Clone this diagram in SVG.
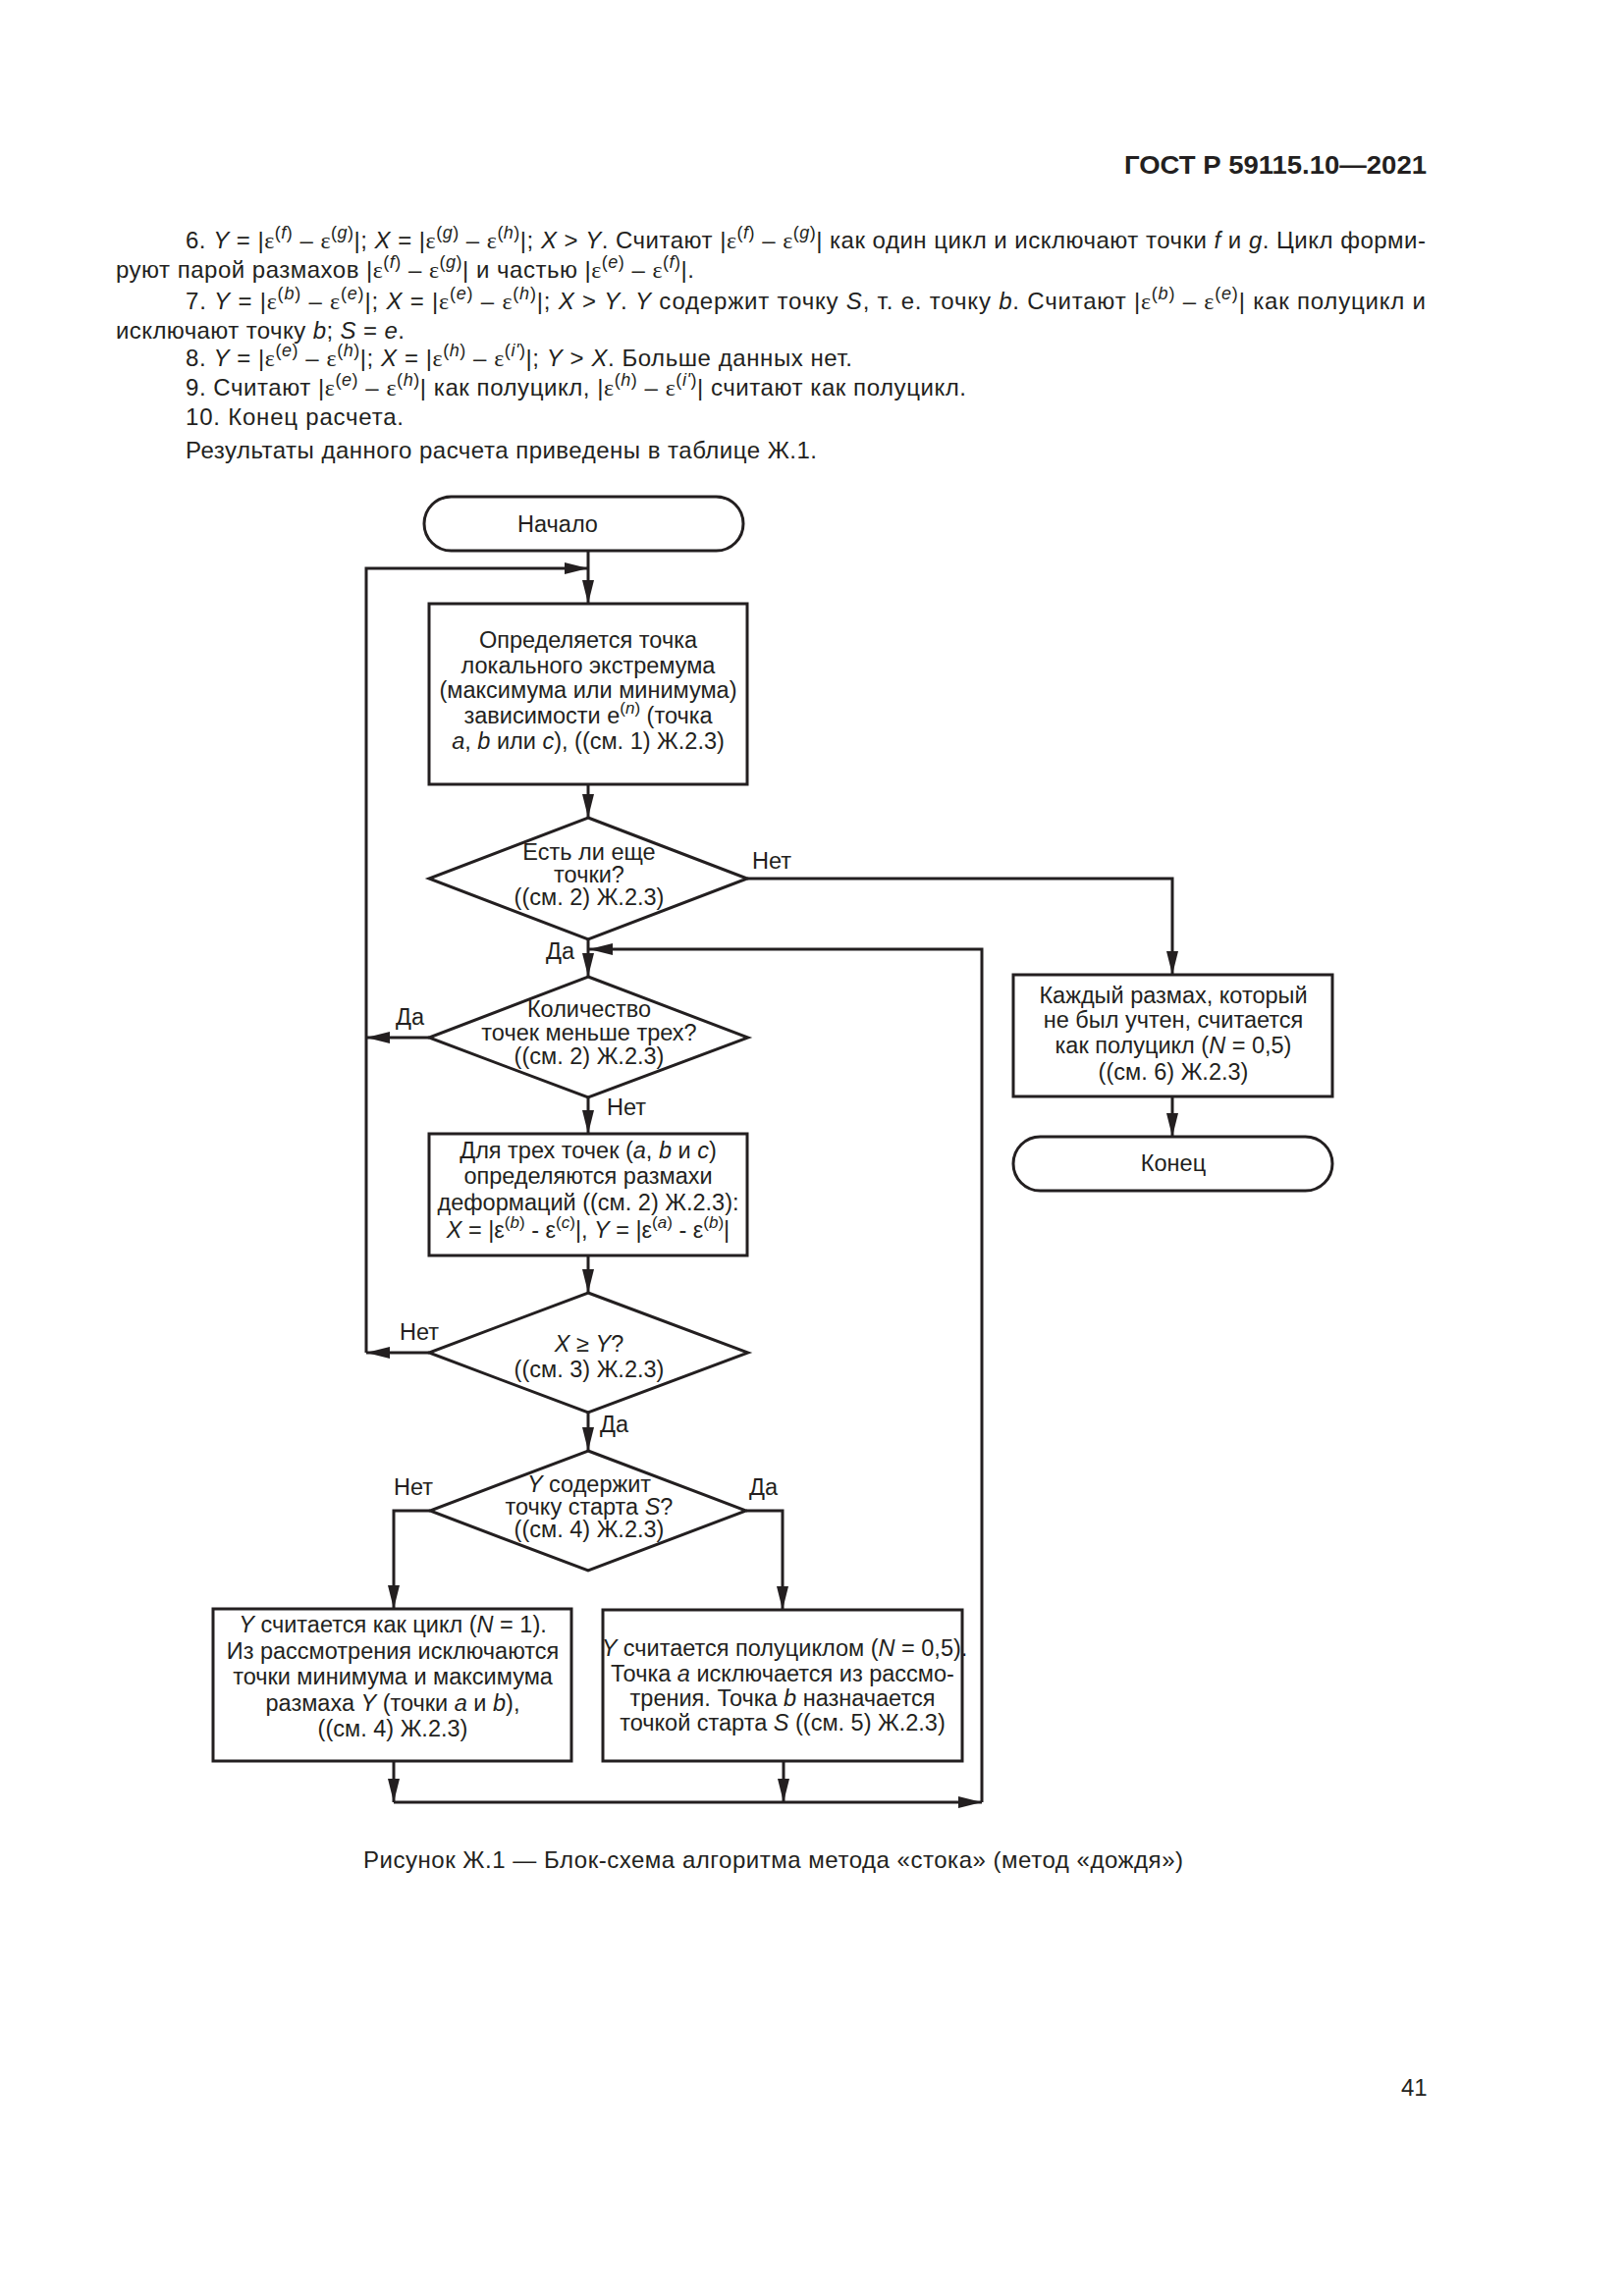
<svg xmlns="http://www.w3.org/2000/svg" width="1654" height="2339" viewBox="0 0 1654 2339">
<style>
text{font-family:"Liberation Sans",Arial,sans-serif;fill:#231f20}
.b{font-size:24px}
.t{font-size:23.5px}
.c{text-anchor:middle}
.i{font-style:italic}
.e{font-family:"Liberation Serif","Times New Roman",serif}
.sp{font-size:18px}
.ss{font-size:17px}
.h{font-size:26px;font-weight:bold}
.shape{fill:#fff;stroke:#231f20;stroke-width:3}
.ln{fill:none;stroke:#231f20;stroke-width:3}
</style>
<defs>
<marker id="ah" viewBox="0 0 24 12" refX="24" refY="6" markerWidth="24" markerHeight="12" markerUnits="userSpaceOnUse" orient="auto"><path d="M0,0 L24,6 L0,12 z" fill="#231f20"/></marker>
</defs>
<rect width="1654" height="2339" fill="#fff"/>

<g id="page-text">
<text class="h" x="1145" y="177" textLength="308" lengthAdjust="spacingAndGlyphs">ГОСТ Р 59115.10—2021</text>
<text class="b" x="189" y="253" textLength="1263" lengthAdjust="spacing">6. <tspan class="i">Y</tspan> = |<tspan class="e">ε</tspan><tspan class="sp" dy="-10">(<tspan class="i">f</tspan>)</tspan><tspan dy="10"> – </tspan><tspan class="e">ε</tspan><tspan class="sp" dy="-10">(<tspan class="i">g</tspan>)</tspan><tspan dy="10">|; </tspan><tspan class="i">X</tspan> = |<tspan class="e">ε</tspan><tspan class="sp" dy="-10">(<tspan class="i">g</tspan>)</tspan><tspan dy="10"> – </tspan><tspan class="e">ε</tspan><tspan class="sp" dy="-10">(<tspan class="i">h</tspan>)</tspan><tspan dy="10">|; </tspan><tspan class="i">X</tspan> &gt; <tspan class="i">Y</tspan>. Считают |<tspan class="e">ε</tspan><tspan class="sp" dy="-10">(<tspan class="i">f</tspan>)</tspan><tspan dy="10"> – </tspan><tspan class="e">ε</tspan><tspan class="sp" dy="-10">(<tspan class="i">g</tspan>)</tspan><tspan dy="10">| как один цикл и исключают точки </tspan><tspan class="i">f</tspan> и <tspan class="i">g</tspan>. Цикл форми-</text>
<text class="b" x="118" y="283" textLength="589" lengthAdjust="spacing">руют парой размахов |<tspan class="e">ε</tspan><tspan class="sp" dy="-10">(<tspan class="i">f</tspan>)</tspan><tspan dy="10"> – </tspan><tspan class="e">ε</tspan><tspan class="sp" dy="-10">(<tspan class="i">g</tspan>)</tspan><tspan dy="10">| и частью |</tspan><tspan class="e">ε</tspan><tspan class="sp" dy="-10">(<tspan class="i">e</tspan>)</tspan><tspan dy="10"> – </tspan><tspan class="e">ε</tspan><tspan class="sp" dy="-10">(<tspan class="i">f</tspan>)</tspan><tspan dy="10">|.</tspan></text>
<text class="b" x="189" y="315" textLength="1263" lengthAdjust="spacing">7. <tspan class="i">Y</tspan> = |<tspan class="e">ε</tspan><tspan class="sp" dy="-10">(<tspan class="i">b</tspan>)</tspan><tspan dy="10"> – </tspan><tspan class="e">ε</tspan><tspan class="sp" dy="-10">(<tspan class="i">e</tspan>)</tspan><tspan dy="10">|; </tspan><tspan class="i">X</tspan> = |<tspan class="e">ε</tspan><tspan class="sp" dy="-10">(<tspan class="i">e</tspan>)</tspan><tspan dy="10"> – </tspan><tspan class="e">ε</tspan><tspan class="sp" dy="-10">(<tspan class="i">h</tspan>)</tspan><tspan dy="10">|; </tspan><tspan class="i">X</tspan> &gt; <tspan class="i">Y</tspan>. <tspan class="i">Y</tspan> содержит точку <tspan class="i">S</tspan>, т. е. точку <tspan class="i">b</tspan>. Считают |<tspan class="e">ε</tspan><tspan class="sp" dy="-10">(<tspan class="i">b</tspan>)</tspan><tspan dy="10"> – </tspan><tspan class="e">ε</tspan><tspan class="sp" dy="-10">(<tspan class="i">e</tspan>)</tspan><tspan dy="10">| как полуцикл и</tspan></text>
<text class="b" x="118" y="345" textLength="294" lengthAdjust="spacing">исключают точку <tspan class="i">b</tspan>; <tspan class="i">S</tspan> = <tspan class="i">e</tspan>.</text>
<text class="b" x="189" y="373" textLength="679" lengthAdjust="spacing">8. <tspan class="i">Y</tspan> = |<tspan class="e">ε</tspan><tspan class="sp" dy="-10">(<tspan class="i">e</tspan>)</tspan><tspan dy="10"> – </tspan><tspan class="e">ε</tspan><tspan class="sp" dy="-10">(<tspan class="i">h</tspan>)</tspan><tspan dy="10">|; </tspan><tspan class="i">X</tspan> = |<tspan class="e">ε</tspan><tspan class="sp" dy="-10">(<tspan class="i">h</tspan>)</tspan><tspan dy="10"> – </tspan><tspan class="e">ε</tspan><tspan class="sp" dy="-10">(<tspan class="i">i'</tspan>)</tspan><tspan dy="10">|; </tspan><tspan class="i">Y</tspan> &gt; <tspan class="i">X</tspan>. Больше данных нет.</text>
<text class="b" x="189" y="403" textLength="795" lengthAdjust="spacing">9. Считают |<tspan class="e">ε</tspan><tspan class="sp" dy="-10">(<tspan class="i">e</tspan>)</tspan><tspan dy="10"> – </tspan><tspan class="e">ε</tspan><tspan class="sp" dy="-10">(<tspan class="i">h</tspan>)</tspan><tspan dy="10">| как полуцикл, |</tspan><tspan class="e">ε</tspan><tspan class="sp" dy="-10">(<tspan class="i">h</tspan>)</tspan><tspan dy="10"> – </tspan><tspan class="e">ε</tspan><tspan class="sp" dy="-10">(<tspan class="i">i'</tspan>)</tspan><tspan dy="10">| считают как полуцикл.</tspan></text>
<text class="b" x="189" y="433" textLength="222" lengthAdjust="spacing">10. Конец расчета.</text>
<text class="b" x="189" y="467" textLength="643" lengthAdjust="spacing">Результаты данного расчета приведены в таблице Ж.1.</text>
<text class="b" x="370" y="1903" textLength="835" lengthAdjust="spacing">Рисунок Ж.1 — Блок-схема алгоритма метода «стока» (метод «дождя»)</text>
<text class="b" x="1427" y="2135">41</text>
</g>

<g id="connectors">
<path class="ln" d="M599,561 V615" marker-end="url(#ah)"/>
<path class="ln" d="M373,1378 V579 H599" marker-end="url(#ah)"/>
<path class="ln" d="M599,799 V833" marker-end="url(#ah)"/>
<path class="ln" d="M761,895 H1194 V993" marker-end="url(#ah)"/>
<path class="ln" d="M599,957 V995" marker-end="url(#ah)"/>
<path class="ln" d="M1000,1836 V967 H600" marker-end="url(#ah)"/>
<path class="ln" d="M437,1057 H373" marker-end="url(#ah)"/>
<path class="ln" d="M599,1118 V1155" marker-end="url(#ah)"/>
<path class="ln" d="M599,1279 V1317" marker-end="url(#ah)"/>
<path class="ln" d="M437,1378 H373" marker-end="url(#ah)"/>
<path class="ln" d="M599,1439 V1478" marker-end="url(#ah)"/>
<path class="ln" d="M438,1539 H401 V1639" marker-end="url(#ah)"/>
<path class="ln" d="M760,1539 H797 V1640" marker-end="url(#ah)"/>
<path class="ln" d="M401,1794 V1836" marker-end="url(#ah)"/>
<path class="ln" d="M798,1794 V1836" marker-end="url(#ah)"/>
<path class="ln" d="M401,1836 H1000" marker-end="url(#ah)"/>
<path class="ln" d="M1194,1117 V1158" marker-end="url(#ah)"/>
<text class="t" x="766" y="885">Нет</text>
<text class="t" x="556" y="977">Да</text>
<text class="t" x="403" y="1044">Да</text>
<text class="t" x="618" y="1136">Нет</text>
<text class="t" x="407" y="1365">Нет</text>
<text class="t" x="611" y="1459">Да</text>
<text class="t" x="401" y="1523">Нет</text>
<text class="t" x="763" y="1523">Да</text>
</g>

<g id="start">
<rect class="shape" x="432" y="506" width="325" height="55" rx="27.5"/>
<text class="t c" x="568" y="542">Начало</text>
</g>

<g id="box1">
<rect class="shape" x="437" y="615" width="324" height="184"/>
<text class="t c" x="599" y="660">Определяется точка</text>
<text class="t c" x="599" y="686">локального экстремума</text>
<text class="t c" x="599" y="711">(максимума или минимума)</text>
<text class="t c" x="599" y="737">зависимости e<tspan class="ss" dy="-10">(<tspan class="i">n</tspan>)</tspan><tspan dy="10"> (точка</tspan></text>
<text class="t c" x="599" y="763"><tspan class="i">a</tspan>, <tspan class="i">b</tspan> или <tspan class="i">c</tspan>), ((см. 1) Ж.2.3)</text>
</g>

<g id="dec1">
<polygon class="shape" points="599,833 761,895 599,957 437,895"/>
<text class="t c" x="600" y="876">Есть ли еще</text>
<text class="t c" x="600" y="899">точки?</text>
<text class="t c" x="600" y="922">((см. 2) Ж.2.3)</text>
</g>

<g id="dec2">
<polygon class="shape" points="599,995 762,1057 599,1118 437,1057"/>
<text class="t c" x="600" y="1036">Количество</text>
<text class="t c" x="600" y="1060">точек меньше трех?</text>
<text class="t c" x="600" y="1084">((см. 2) Ж.2.3)</text>
</g>

<g id="box2">
<rect class="shape" x="437" y="1155" width="324" height="124"/>
<text class="t c" x="599" y="1180">Для трех точек (<tspan class="i">a</tspan>, <tspan class="i">b</tspan> и <tspan class="i">c</tspan>)</text>
<text class="t c" x="599" y="1206">определяются размахи</text>
<text class="t c" x="599" y="1233">деформаций ((см. 2) Ж.2.3):</text>
<text class="t c" x="599" y="1261"><tspan class="i">X</tspan> = |ε<tspan class="ss" dy="-10">(<tspan class="i">b</tspan>)</tspan><tspan dy="10"> - ε</tspan><tspan class="ss" dy="-10">(<tspan class="i">c</tspan>)</tspan><tspan dy="10">|, </tspan><tspan class="i">Y</tspan> = |ε<tspan class="ss" dy="-10">(<tspan class="i">a</tspan>)</tspan><tspan dy="10"> - ε</tspan><tspan class="ss" dy="-10">(<tspan class="i">b</tspan>)</tspan><tspan dy="10">|</tspan></text>
</g>

<g id="dec3">
<polygon class="shape" points="599,1317 762,1378 599,1439 437,1378"/>
<text class="t c" x="600" y="1377"><tspan class="i">X</tspan> ≥ <tspan class="i">Y</tspan>?</text>
<text class="t c" x="600" y="1403">((см. 3) Ж.2.3)</text>
</g>

<g id="dec4">
<polygon class="shape" points="599,1478 760,1539 599,1600 438,1539"/>
<text class="t c" x="600" y="1520"><tspan class="i">Y</tspan> содержит</text>
<text class="t c" x="600" y="1543">точку старта <tspan class="i">S</tspan>?</text>
<text class="t c" x="600" y="1566">((см. 4) Ж.2.3)</text>
</g>

<g id="box3">
<rect class="shape" x="217" y="1639" width="365" height="155"/>
<text class="t c" x="400" y="1663"><tspan class="i">Y</tspan> считается как цикл (<tspan class="i">N</tspan> = 1).</text>
<text class="t c" x="400" y="1690">Из рассмотрения исключаются</text>
<text class="t c" x="400" y="1716">точки минимума и максимума</text>
<text class="t c" x="400" y="1743">размаха <tspan class="i">Y</tspan> (точки <tspan class="i">a</tspan> и <tspan class="i">b</tspan>),</text>
<text class="t c" x="400" y="1769">((см. 4) Ж.2.3)</text>
</g>

<g id="box4">
<rect class="shape" x="614" y="1640" width="366" height="154"/>
<text class="t c" x="799" y="1687"><tspan class="i">Y</tspan> считается полуциклом (<tspan class="i">N</tspan> = 0,5).</text>
<text class="t c" x="797" y="1713">Точка <tspan class="i">a</tspan> исключается из рассмо-</text>
<text class="t c" x="797" y="1738">трения. Точка <tspan class="i">b</tspan> назначается</text>
<text class="t c" x="797" y="1763">точкой старта <tspan class="i">S</tspan> ((см. 5) Ж.2.3)</text>
</g>

<g id="box5">
<rect class="shape" x="1032" y="993" width="325" height="124"/>
<text class="t c" x="1195" y="1022">Каждый размах, который</text>
<text class="t c" x="1195" y="1047">не был учтен, считается</text>
<text class="t c" x="1195" y="1073">как полуцикл (<tspan class="i">N</tspan> = 0,5)</text>
<text class="t c" x="1195" y="1100">((см. 6) Ж.2.3)</text>
</g>

<g id="end">
<rect class="shape" x="1032" y="1158" width="325" height="55" rx="27.5"/>
<text class="t c" x="1195" y="1193">Конец</text>
</g>
</svg>
